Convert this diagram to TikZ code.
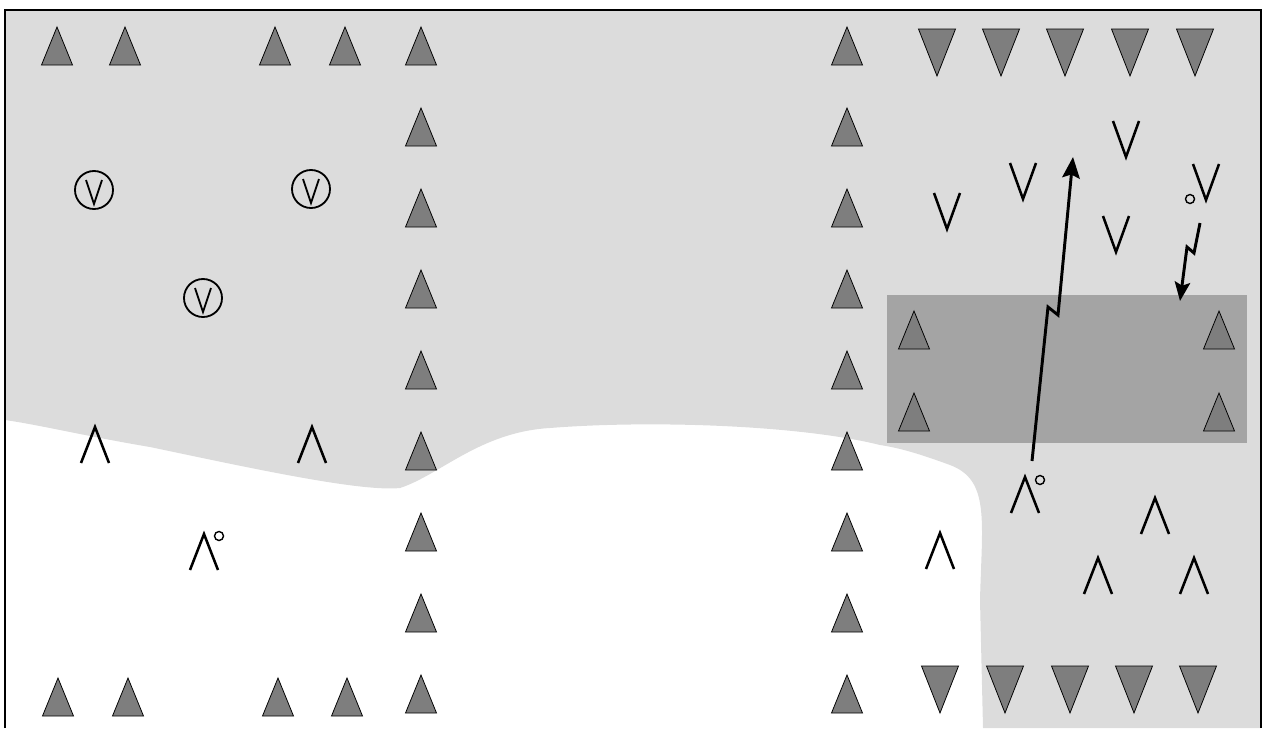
\documentclass[tikz,border=0pt]{standalone}
\definecolor{mLightShade}{RGB}{220,220,220}
\definecolor{mDarkShade}{RGB}{164,164,164}
\definecolor{mTriFill}{RGB}{126,126,126}
\usepackage{tikz}
\usetikzlibrary{arrows.meta}

\begin{document}
\begin{tikzpicture}[x=0.05cm, y=-0.05cm,
    uptri/.pic={\filldraw[fill=mTriFill, line width=1.1pt] (-15.5,38) -- (0,0) -- (15.5,38) -- cycle;},
    downtri/.pic={\filldraw[fill=mTriFill, line width=1.1pt] (-18.5,0) -- (0,47) -- (18.5,0) -- cycle;},
    veemark/.pic={\draw[line width=3.6pt] (-13,0) -- (0,36) -- (13,0);},
    wedgemark/.pic={\draw[line width=3.6pt] (-14,36) -- (0,0) -- (14,36);},
    ringvee/.pic={\draw[line width=2.6pt] (0,0) circle (19);
                  \draw[line width=2.6pt] (-8,-10) -- (0,14) -- (8,-10);}]
    \useasboundingbox (0,0) rectangle (1264,728);
    % Shaded air
    \fill[mLightShade] (5,10) -- (1261,10) -- (1261,728) -- (983,728) -- (980,600)
      .. controls (982,520) and (990,480) .. (950,465)
      .. controls (920,454) and (900,448) .. (880,445)
      .. controls (800,425) and (650,420) .. (550,428)
      .. controls (480,432) and (440,475) .. (400,488)
      .. controls (360,492) and (250,468) .. (150,447)
      .. controls (90,437) and (40,425) .. (5,420) -- cycle;
    % Dark band
    \fill[mDarkShade] (887,295) rectangle (1247,443);
    % Frame
    \draw[line width=3pt] (5,728) -- (5,10) -- (1261,10) -- (1261,728);
    % Rows of triangles
    \foreach \x in {57,125,275,345} {
      \pic at (\x,27) {uptri};
    }
    \foreach \x in {58,128,278,347} {
      \pic at (\x,678) {uptri};
    }
    \foreach \k in {0,...,8} {
      \pic at (421,{27+81*\k}) {uptri};
      \pic at (847,{27+81*\k}) {uptri};
    }
    \foreach \x in {937,1001,1065,1130,1195} {
      \pic at (\x,29) {downtri};
    }
    \foreach \x in {940,1005,1070,1134,1198} {
      \pic at (\x,666) {downtri};
    }
    % Triangles in the band
    \foreach \x in {914,1219} {
      \pic at (\x,311) {uptri};
      \pic at (\x,393) {uptri};
    }
    % Circled marks
    \pic at (94,190) {ringvee};
    \pic at (311,189) {ringvee};
    \pic at (203,298) {ringvee};
    % Open marks, left
    \pic at (95,427) {wedgemark};
    \pic at (312,427) {wedgemark};
    \pic at (204,534) {wedgemark};
    \draw[line width=2pt] (219,536) circle (4.5);
    % Open marks, right
    \foreach \x/\y in {947/193,1023/163,1126/121,1116/216,1206/164} {
      \pic at (\x,\y) {veemark};
    }
    \draw[line width=2pt] (1190,199) circle (4.5);
    \foreach \x/\y in {1025/477,1155/498,940/533,1098/558,1194/558} {
      \pic at (\x,\y) {wedgemark};
    }
    \draw[line width=2pt] (1040,480) circle (4.5);
    % Arrows
    \coordinate (riseFoot) at (1032,461);
    \coordinate (riseTip) at (1073,157);
    \coordinate (sinkTop) at (1200,223);
    \coordinate (sinkTip) at (1180,301);
    \draw[line width=4.2pt, -{Stealth[length=30pt, width=25pt, inset=5pt]}]
      (riseFoot) -- (1048,307) -- (1058,315) -- (riseTip);
    \draw[line width=4.2pt, -{Stealth[length=27pt, width=22pt, inset=5pt]}]
      (sinkTop) -- (1194,253) -- (1187,247) -- (sinkTip);
  \end{tikzpicture}
\end{document}
